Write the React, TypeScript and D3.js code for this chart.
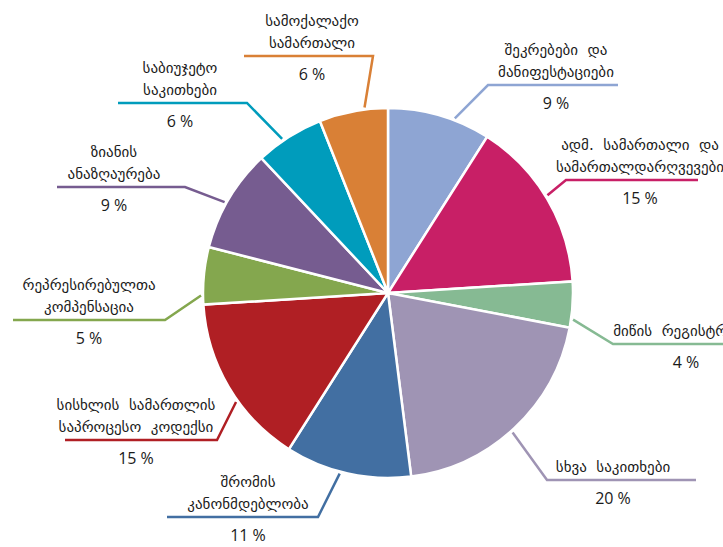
import React from "react";
import * as d3 from "d3";

const WIDTH = 723;
const HEIGHT = 547;
const CX = 388;
const CY = 293;
const RADIUS = 185;

// slices, clockwise from 12 o'clock
const categories = [
  ["შეკრებები  და", "მანიფესტაციები"],
  ["ადმ.  სამართალი  და", "სამართალდარღვევები"],
  ["მიწის  რეგისტრაცია"],
  ["სხვა  საკითხები"],
  ["შრომის", "კანონმდებლობა"],
  ["სისხლის  სამართლის", "საპროცესო  კოდექსი"],
  ["რეპრესირებულთა", "კომპენსაცია"],
  ["ზიანის", "ანაზღაურება"],
  ["საბიუჯეტო", "საკითხები"],
  ["სამოქალაქო", "სამართალი"],
];
const values = [9, 15, 4, 20, 11, 15, 5, 9, 6, 6];
const colors = [
  "#8ea5d3",
  "#c81f66",
  "#86ba93",
  "#9f94b4",
  "#426fa2",
  "#b01f24",
  "#84a74e",
  "#765c90",
  "#009cbc",
  "#d98036",
];

// label layout: horizontal rule (x1..x2 at y), elbow x, label centre x
const labelLayout = [
  { x1: 488, x2: 618, y: 85, elbow: 488, cx: 556 },
  { x1: 566, x2: 698, y: 180, elbow: 566, cx: 640 },
  { x1: 613, x2: 760, y: 344, elbow: 613, cx: 686 },
  { x1: 547, x2: 696, y: 480, elbow: 547, cx: 613 },
  { x1: 167, x2: 318, y: 517, elbow: 318, cx: 248 },
  { x1: 65, x2: 217, y: 440, elbow: 217, cx: 136 },
  { x1: 13, x2: 165, y: 320, elbow: 165, cx: 89 },
  { x1: 57, x2: 185, y: 187, elbow: 185, cx: 114 },
  { x1: 118, x2: 247, y: 103, elbow: 247, cx: 180 },
  { x1: 244, x2: 373, y: 56, elbow: 373, cx: 312 },
];

export default function App() {
  const pie = d3
    .pie<number>()
    .sort(null)
    .value((d) => d);
  const arcs = pie(values);
  const arc = d3.arc<d3.PieArcDatum<number>>().innerRadius(0).outerRadius(RADIUS);

  return (
    <svg
      width={WIDTH}
      height={HEIGHT}
      style={{ position: "absolute", left: 0, top: 0, background: "#fff" }}
    >
      <g transform={`translate(${CX},${CY})`}>
        {arcs.map((a, i) => (
          <path key={i} d={arc(a) || ""} fill={colors[i]} stroke="#fff" strokeWidth={2.5} />
        ))}
      </g>
      {arcs.map((a, i) => {
        const L = labelLayout[i];
        const mid = (a.startAngle + a.endAngle) / 2;
        // leader leans from the slice middle toward its label
        let toward = Math.atan2(L.elbow - CX, -(L.y - CY));
        while (toward - mid > Math.PI) toward -= 2 * Math.PI;
        while (mid - toward > Math.PI) toward += 2 * Math.PI;
        const ang = Math.max(a.startAngle + 0.03, Math.min(a.endAngle - 0.03, (mid + toward) / 2));
        const sx = CX + Math.sin(ang) * (RADIUS + 2);
        const sy = CY - Math.cos(ang) * (RADIUS + 2);
        const lines = categories[i];
        const lineH = 22;
        const top = L.y - 8 - (lines.length - 1) * lineH;
        return (
          <g key={i}>
            <polyline
              points={`${sx},${sy} ${L.elbow},${L.y} ${L.elbow === L.x1 ? L.x2 : L.x1},${L.y}`}
              fill="none"
              stroke={colors[i]}
              strokeWidth={2.5}
            />
            <text
              textAnchor="middle"
              fontFamily="DejaVu Sans"
              fontSize={15}
              fill="#1a1a1a"
              style={{ whiteSpace: "pre" }}
            >
              {lines.map((t, j) => (
                <tspan key={j} x={L.cx} y={top + j * lineH}>
                  {t}
                </tspan>
              ))}
            </text>
            <text
              x={L.cx}
              y={L.y + 24}
              textAnchor="middle"
              fontFamily="Open Sans"
              fontSize={16}
              fill="#1a1a1a"
            >
              {values[i]} %
            </text>
          </g>
        );
      })}
    </svg>
  );
}
